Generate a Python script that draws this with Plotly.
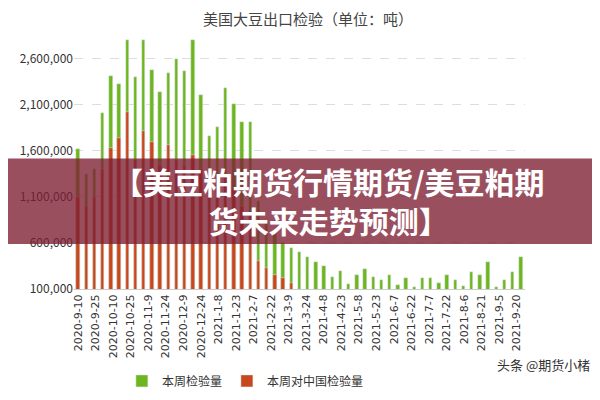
import plotly.graph_objects as go

total = [1.62e6, 1.35e6, 1.40e6, 2.01e6, 2.41e6, 2.32e6, 2.80e6, 2.40e6, 2.80e6, 2.48e6,
         2.24e6, 2.44e6, 2.60e6, 2.47e6, 2.80e6, 2.21e6, 1.76e6, 1.86e6, 2.28e6, 2.11e6,
         1.91e6, 1.91e6, 1.05e6, 0.85e6, 0.72e6, 600e3, 550e3, 500e3, 450e3, 395e3,
         345e3, 233e3, 300e3, 158e3, 253e3, 320e3, 233e3, 200e3, 253e3, 148e3,
         215e3, 117e3, 220e3, 215e3, 165e3, 253e3, 200e3, 130e3, 287e3, 253e3,
         395e3, 117e3, 200e3, 287e3, 450e3]
china = [1.10e6, 1.00e6, 1.10e6, 1.40e6, 1.63e6, 1.74e6, 2.02e6, 1.50e6, 1.82e6, 1.70e6,
         1.45e6, 1.66e6, 1.50e6, 1.45e6, 1.55e6, 1.40e6, 1.20e6, 1.20e6, 1.30e6, 1.20e6,
         1.00e6, 0.90e6, 400e3, 330e3, 250e3, 220e3, 165e3, 0, 0, 0,
         0, 0, 0, 0, 0, 0, 0, 0, 0, 0,
         0, 0, 0, 0, 0, 0, 0, 0, 0, 0,
         0, 0, 0, 0, 0]
tick_labels = ["2020-9-10", "2020-9-25", "2020-10-10", "2020-10-25", "2020-11-9", "2020-11-24",
               "2020-12-9", "2020-12-24", "2021-1-8", "2021-1-23", "2021-2-7", "2021-2-22",
               "2021-3-9", "2021-3-24", "2021-4-8", "2021-4-23", "2021-5-8", "2021-5-23",
               "2021-6-7", "2021-6-22", "2021-7-7", "2021-7-22", "2021-8-6", "2021-8-21",
               "2021-9-5", "2021-9-20"]

x = list(range(len(total)))
tickvals = [i * 2.14 for i in range(len(tick_labels))]

fig = go.Figure()
fig.add_bar(x=x, y=total, name="本周检验量", marker_color="#6fb51f", width=0.4)
fig.add_bar(x=x, y=china, name="本周对中国检验量", marker_color="#c8471c", width=0.4)
fig.update_layout(
    barmode="overlay", width=600, height=400, plot_bgcolor="white", paper_bgcolor="white",
    margin=dict(l=60, r=83, t=23, b=108), bargap=0,
    font=dict(family="Noto Sans CJK SC", color="#333"),
    title=dict(text="美国大豆出口检验（单位：吨）", x=0.5, y=0.985, yanchor="top",
               font=dict(size=15, color="#444")),
    legend=dict(orientation="h", x=0.38, xanchor="center", y=-0.3, yanchor="top",
                font=dict(size=12), itemwidth=30, tracegroupgap=0),
    showlegend=True,
)
fig.update_xaxes(range=[-0.5, 54.5], tickvals=tickvals, ticktext=tick_labels, tickangle=-90,
                 tickfont=dict(size=11, family="DejaVu Sans"), showgrid=False,
                 showline=True, linecolor="#ccc")
fig.update_yaxes(range=[100000, 2900000], tickvals=[100000, 600000, 1100000, 1600000, 2100000, 2600000],
                 tickformat=",", showgrid=True, gridcolor="#ddd", griddash="dash",
                 tickfont=dict(size=12), zeroline=False)
fig.add_shape(type="rect", xref="paper", yref="paper", x0=-0.2, x1=1.3, y0=(400-245-108)/269,
              y1=(400-156-108)/269, fillcolor="rgba(125,30,50,0.78)", line_width=0)
fig.add_annotation(text="<b>【美豆粕期货行情期货/美豆粕期<br>货未来走势预测】</b>", xref="paper", yref="paper",
                   x=(318-60)/457, y=(400-200-108)/269, showarrow=False,
                   font=dict(size=30, color="white", family="Noto Sans CJK SC"),
                   align="center")
fig.add_annotation(text="头条 @期货小楮", xref="paper", yref="paper", x=(585-60)/457,
                   y=(400-383-108)/269, xanchor="right", showarrow=False,
                   font=dict(size=13, color="#333"))
fig.write_html("out.html")
